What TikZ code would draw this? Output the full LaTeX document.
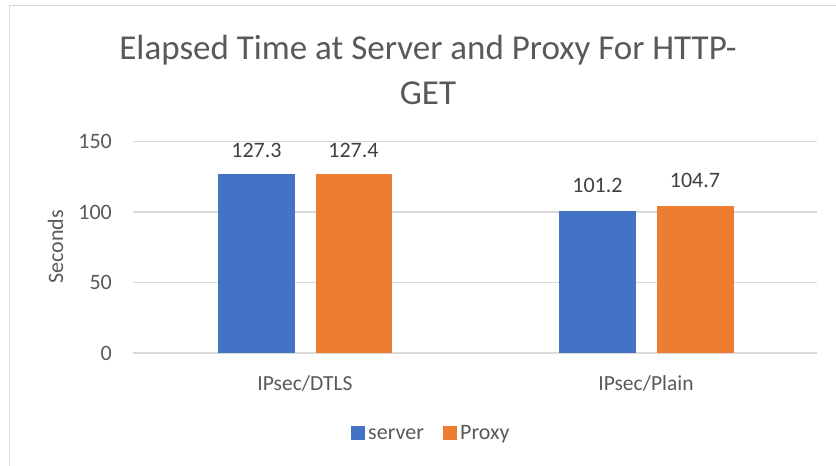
\documentclass[tikz,border=0pt]{standalone}
\usepackage{fontspec}
\setmainfont{Carlito}
\definecolor{serverblue}{HTML}{4472C4}
\definecolor{proxyorange}{HTML}{ED7D31}
\definecolor{labelgray}{HTML}{595959}
\definecolor{valuegray}{HTML}{404040}
\definecolor{gridgray}{HTML}{D9D9D9}
\tikzset{
  gridline/.style={draw=gridgray, line width=1.2pt},
  smalltext/.style={text=labelgray, font=\fontsize{22}{26}\selectfont, inner sep=0pt},
  tick/.style={smalltext, anchor=east},
  valuelabel/.style={smalltext, text=valuegray, anchor=base},
  catlabel/.style={text=labelgray, font=\fontsize{21.5}{26}\selectfont, inner sep=0pt, anchor=base},
  titletext/.style={text=labelgray, font=\fontsize{35}{45}\selectfont, inner sep=0pt, anchor=base}
}
\begin{document}
\begin{tikzpicture}[x=1pt,y=-1pt]
  \useasboundingbox (0,0) rectangle (836,466);
  % chart frame
  \draw[gridgray, line width=1.3pt] (9.5,466) -- (9.5,5.5) -- (836,5.5);

  % title
  \node[titletext] (title1) at (428,59) {Elapsed Time at Server and Proxy For HTTP-};
  \node[titletext] (title2) at (428,104) {GET};

  % horizontal gridlines and value axis
  \foreach \v/\yy in {150/141.7,100/212,50/282.3,0/353} {
    \draw[gridline] (133,\yy) -- (817,\yy);
    \node[tick] (tick\v) at (112,\yy) {\v};
  }
  \node[smalltext, rotate=90, anchor=base] (ytitle) at (63,247) {Seconds};

  % bars (1.406 px per second)
  \fill[serverblue]  (218,353) rectangle (294.5,174.0);
  \fill[proxyorange] (315.5,353) rectangle (392,173.9);
  \fill[serverblue]  (559,353) rectangle (636,210.7);
  \fill[proxyorange] (657,353) rectangle (733.5,205.8);

  % value labels
  \node[valuelabel] (v1) at (256.5,157) {127.3};
  \node[valuelabel] (v2) at (353.5,157) {127.4};
  \node[valuelabel] (v3) at (597.5,192.7) {101.2};
  \node[valuelabel] (v4) at (695,187) {104.7};

  % category labels
  \node[catlabel] (c1) at (305,390) {IPsec/DTLS};
  \node[catlabel] (c2) at (646,390) {IPsec/Plain};

  % legend
  \fill[serverblue]  (351,426) rectangle (364.5,439.5);
  \node[smalltext, anchor=base west] (legserver) at (368,439.5) {server};
  \fill[proxyorange] (443,426) rectangle (456.5,439.5);
  \node[smalltext, anchor=base west] (legproxy) at (460,439.5) {Proxy};
\end{tikzpicture}
\end{document}
